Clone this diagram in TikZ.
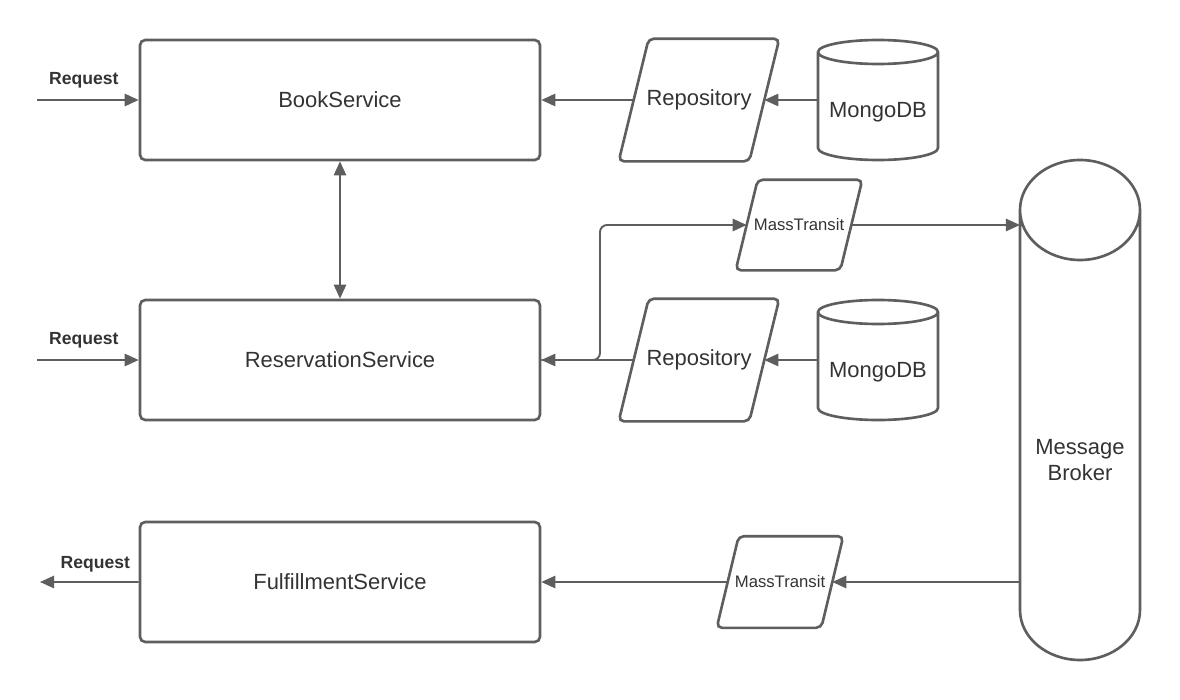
\documentclass[tikz,border=0pt]{standalone}
\usepackage{fontspec}
\setmainfont{Liberation Sans}
\usetikzlibrary{arrows.meta,positioning,shapes.geometric}
\definecolor{lineg}{HTML}{5E5E5E}
\definecolor{textg}{HTML}{333333}

% cylinder round a body node: node name, cap radius
\newcommand{\dbcyl}[2]{%
  \draw[outline] ([yshift=#2]#1.north west) -- ([yshift=#2]#1.south west)
    arc[start angle=180, end angle=360, x radius=1.2cm, y radius=#2]
    -- ([yshift=#2]#1.north east)
    arc[start angle=0, end angle=180, x radius=1.2cm, y radius=#2]
    arc[start angle=180, end angle=360, x radius=1.2cm, y radius=#2];
}
% slanted box round a node: node name, half slant
\newcommand{\slantbox}[2]{%
  \draw[outline, rounded corners=3pt] ([xshift=#2]#1.north west) -- ([xshift=#2]#1.north east)
    -- ([xshift=-#2]#1.south east) -- ([xshift=-#2]#1.south west) -- cycle;
}

\begin{document}
\begin{tikzpicture}
    \tikzset{service/.style= {draw, rectangle, rounded corners=3pt
    , minimum width=8cm, minimum height=2.4cm
    , line width=1.5pt, color=lineg, text=textg
    , font=\fontsize{12.5}{15}\selectfont
      },
    store/.style= {rectangle, outer sep=0.75pt
    , minimum width=2.56cm, minimum height=2.4cm, text=textg
    , font=\fontsize{12.5}{15}\selectfont
      },
    bus/.style= {store, minimum width=1.96cm, minimum height=1.76cm
    , font=\fontsize{9.5}{11}\selectfont
      },
    db/.style= {rectangle, outer sep=0pt, minimum width=2.4cm
    , text=textg, align=center
    , font=\fontsize{12.5}{15}\selectfont
      },
    outline/.style= {line width=1.5pt, color=lineg},
    arr/.style= {draw, line width=1.1pt, color=lineg
    , -{Triangle[length=8pt,width=7pt]}
      },
    twoway/.style= {arr, {Triangle[length=8pt,width=7pt]}-{Triangle[length=8pt,width=7pt]}},
    req/.style= {text=textg, font=\fontsize{10}{12}\selectfont\bfseries}
    }
\useasboundingbox (0,0) rectangle (23.6,-14);

\node [service] (book) at (6.8,-2) {BookService};
\node [service, below of=book, node distance=5.2cm] (resv) {ReservationService};
\node [service, below of=resv, node distance=4.44cm] (fulfil) {FulfillmentService};

\node [store, right of=book, node distance=7.18cm] (repo1) {Repository};
\node [store, below of=repo1, node distance=5.2cm] (repo2) {Repository};
\node [db, minimum height=1.92cm] (mongo1) at (17.56,-2.24) {MongoDB};
\node [db, minimum height=1.92cm] (mongo2) at (17.56,-7.44) {MongoDB};
\node [bus] (mt1) at (15.98,-4.5) {MassTransit};
\node [bus, minimum width=1.9cm, minimum height=1.78cm] (mt2) at (15.6,-11.64) {MassTransit};
\node [db, minimum height=8cm] (broker) at (21.6,-9.2) {Message\\Broker};

\slantbox{repo1}{0.3cm}
\slantbox{repo2}{0.3cm}
\slantbox{mt1}{0.22cm}
\slantbox{mt2}{0.22cm}
\dbcyl{mongo1}{0.24cm}
\dbcyl{mongo2}{0.24cm}
\dbcyl{broker}{1cm}

\coordinate (in1) at (0.74,-2);
\coordinate (in2) at (0.74,-7.2);
\coordinate (out3) at (0.8,-11.64);
\coordinate (split) at (12,-7.2);

 \path[arr] (in1) -- node[req, pos=0.46, above=3pt] {Request} (book);
 \path[arr] (in2) -- node[req, pos=0.46, above=3pt] {Request} (resv);
 \path[arr] (fulfil) -- node[req, pos=0.44, above=1.5pt] {Request} (out3);
 \path[twoway] (book) -- (resv);
 \path[arr] (mongo1.west |- repo1) -- (repo1);
 \path[arr] (repo1) -- (book);
 \path[arr] (mongo2.west |- repo2) -- (repo2);
 \path[arr] (repo2) -- (resv);
 \path[arr, rounded corners=4pt] (resv) -- (split) |- (mt1);
 \path[arr] (mt1) -- (mt1 -| broker.west);
 \path[arr] (mt2 -| broker.west) -- (mt2);
 \path[arr] (mt2) -- (fulfil);
\end{tikzpicture}
\end{document}
